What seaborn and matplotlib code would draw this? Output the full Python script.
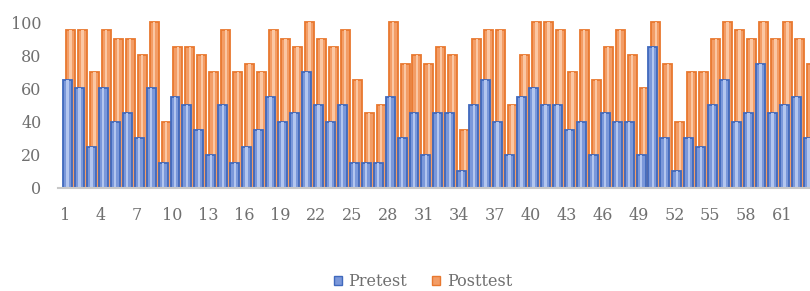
import matplotlib
matplotlib.use("Agg")
import matplotlib.pyplot as plt
from matplotlib.patches import Patch
import seaborn as sns
import pandas as pd

# Data
students = list(range(1, 64))
pretest = [65, 60, 25, 60, 40, 45, 30, 60, 15, 55, 50, 35, 20, 50, 15,
           25, 35, 55, 40, 45, 70, 50, 40, 50, 15, 15, 15, 55, 30, 45,
           20, 45, 45, 10, 50, 65, 40, 20, 55, 60, 50, 50, 35, 40, 20, 45, 40,
           40, 20, 85, 30, 10, 30, 25, 50, 65, 40, 45, 75, 45, 50, 55, 30]
posttest = [95, 95, 70, 95, 90, 90, 80, 100, 40, 85, 85, 80, 70, 95, 70,
            75, 70, 95, 90, 85, 100, 90, 85, 95, 65, 45, 50, 100, 75, 80,
            75, 85, 80, 35, 90, 95, 95, 50, 80, 100, 100, 95, 70, 95, 65, 85, 95,
            80, 60, 100, 75, 40, 70, 70, 90, 100, 95, 90, 100, 90, 100, 90, 75]
tick_labels = students[::3]

TEXT = "#707070"
BLUE_EDGE, BLUE_FACE, BLUE_HI = "#4069bd", "#7b98da", "#b3c6ef"
ORANGE_EDGE, ORANGE_FACE, ORANGE_HI = "#e8782f", "#f39d66", "#fbc7a3"

sns.set_theme(style="white")
plt.rcParams["font.family"] = ["DejaVu Serif"]

df = pd.DataFrame({"student": students, "Pretest": pretest, "Posttest": posttest})
df["pre_x"] = df["student"] + 0.2
df["post_x"] = df["student"] + 0.45

fig = plt.figure(figsize=(8.1, 2.91), dpi=100)
ax = fig.add_axes([0.0716, 0.354, 0.9284, 0.570])

# Posttest behind, Pretest in front (Excel-style overlapping columns)
sns.barplot(data=df, x="post_x", y="Posttest", native_scale=True, width=0.75,
            color=ORANGE_FACE, saturation=1, edgecolor=ORANGE_EDGE, linewidth=1.3, ax=ax)
sns.barplot(data=df, x="post_x", y="Posttest", native_scale=True, width=0.2,
            color=ORANGE_HI, saturation=1, linewidth=0, ax=ax)
sns.barplot(data=df, x="pre_x", y="Pretest", native_scale=True, width=0.75,
            color=BLUE_FACE, saturation=1, edgecolor=BLUE_EDGE, linewidth=1.3, ax=ax)
sns.barplot(data=df, x="pre_x", y="Pretest", native_scale=True, width=0.2,
            color=BLUE_HI, saturation=1, linewidth=0, ax=ax)
for p in ax.patches:
    p.set_clip_on(False)

ax.set_xlim(0.41, 63.34)
ax.set_ylim(0, 100)
ax.set_yticks(range(0, 101, 20))
ax.set_xticks(tick_labels)
ax.set_xticklabels([str(t) for t in tick_labels])
ax.set_xlabel("")
ax.set_ylabel("")
ax.tick_params(axis="y", length=0, pad=12, labelsize=11.5, labelcolor=TEXT)
ax.tick_params(axis="x", length=0, pad=14, labelsize=11.5, labelcolor=TEXT)

for side in ["left", "right", "top"]:
    ax.spines[side].set_visible(False)
ax.spines["bottom"].set_color("#c8c8c8")
ax.spines["bottom"].set_linewidth(1.5)

handles = [Patch(facecolor=BLUE_FACE, edgecolor=BLUE_EDGE, label="Pretest"),
           Patch(facecolor=ORANGE_FACE, edgecolor=ORANGE_EDGE, label="Posttest")]
fig.legend(handles=handles, loc="center", bbox_to_anchor=(0.522, 0.031), ncol=2,
           frameon=False, fontsize=11.5, labelcolor=TEXT, handlelength=0.5,
           handleheight=0.5, handletextpad=0.4, columnspacing=1.6)

plt.savefig("out.png", dpi=100)
